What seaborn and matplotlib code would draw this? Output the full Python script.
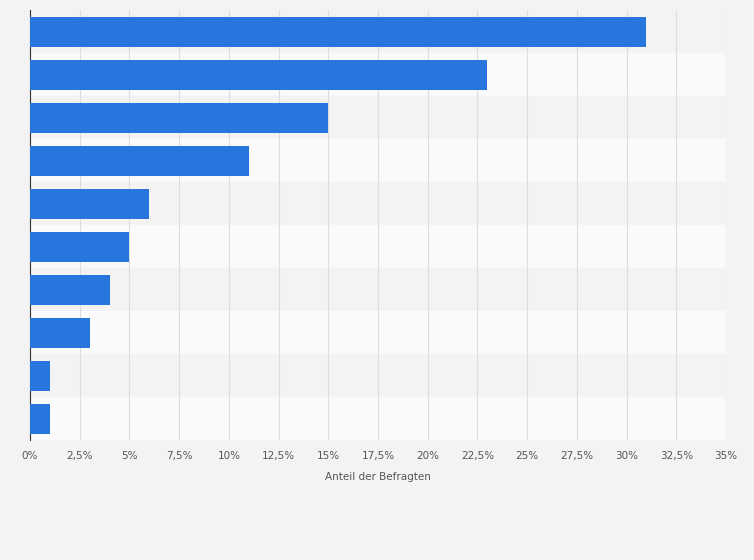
import matplotlib
matplotlib.use("Agg")
import matplotlib.pyplot as plt
import seaborn as sns
import pandas as pd

# Data (category labels are not shown in the reference)
categories = ["A", "B", "C", "D", "E", "F", "G", "H", "I", "J"]
shares = [31, 23, 15, 11, 6, 5, 4, 3, 1, 1]
ticks = [0, 2.5, 5, 7.5, 10, 12.5, 15, 17.5, 20, 22.5, 25, 27.5, 30, 32.5, 35]

df = pd.DataFrame({"cat": categories, "share": shares})

fig = plt.figure(figsize=(7.54, 5.60), dpi=100, facecolor="#f3f3f3")
ax = fig.add_axes([0.0398, 0.214, 0.923, 0.768])
ax.set_facecolor("#fafafa")

# alternating row bands
for i in range(len(categories)):
    ax.axhspan(i - 0.5, i + 0.5, color="#f3f3f3" if i % 2 == 0 else "#fafafa", zorder=0)

sns.barplot(data=df, x="share", y="cat", orient="h", color="#2876dd",
            width=0.7, saturation=1, ax=ax, zorder=3)

ax.set_xlim(0, 35)
ax.set_ylim(len(categories) - 0.5, -0.5)
ax.set_xticks(ticks)
ax.set_xticklabels([(f"{t:g}".replace(".", ",")) + "%" for t in ticks],
                   fontsize=7.5, color="#555555")
ax.tick_params(axis="x", length=0, pad=8)
ax.set_yticks([])
ax.set_ylabel("")
ax.set_xlabel("Anteil der Befragten", fontsize=7.5, color="#555555", labelpad=8)
ax.grid(axis="x", color="#dddddd", linewidth=0.8, zorder=1)
ax.set_axisbelow(True)
for s in ["top", "right", "bottom"]:
    ax.spines[s].set_visible(False)
ax.spines["left"].set_color("#333333")

fig.savefig("out.png", dpi=100, facecolor=fig.get_facecolor())
